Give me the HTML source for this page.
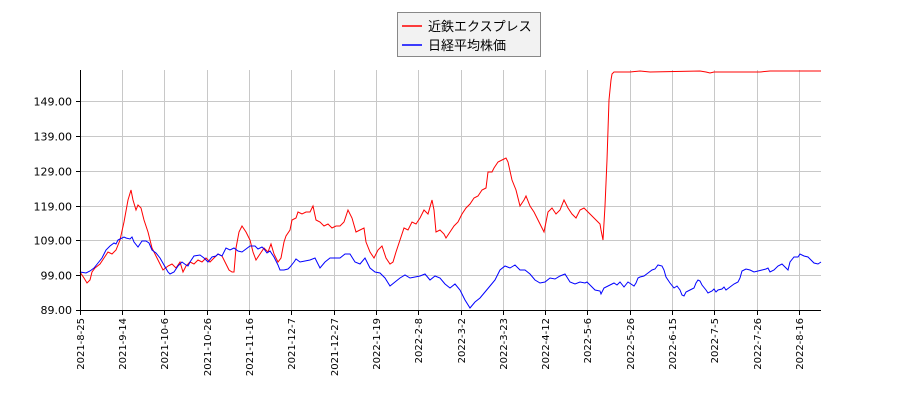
<!DOCTYPE html>
<html><head><meta charset="utf-8"><style>
html,body{margin:0;padding:0;background:#fff;width:900px;height:400px;overflow:hidden}
svg{font-family:"DejaVu Sans","Liberation Sans","Noto Sans CJK JP",sans-serif}
</style></head><body>
<svg width="900" height="400" viewBox="0 0 900 400" xmlns="http://www.w3.org/2000/svg">
<g stroke="#c8c8c8" stroke-width="1">
<line x1="80" y1="101.5" x2="821" y2="101.5"/><line x1="80" y1="136.5" x2="821" y2="136.5"/>
<line x1="80" y1="171.5" x2="821" y2="171.5"/><line x1="80" y1="206.5" x2="821" y2="206.5"/>
<line x1="80" y1="240.5" x2="821" y2="240.5"/><line x1="80" y1="275.5" x2="821" y2="275.5"/>
<line x1="122.5" y1="70" x2="122.5" y2="310"/><line x1="164.5" y1="70" x2="164.5" y2="310"/>
<line x1="207.5" y1="70" x2="207.5" y2="310"/><line x1="249.5" y1="70" x2="249.5" y2="310"/>
<line x1="291.5" y1="70" x2="291.5" y2="310"/><line x1="334.5" y1="70" x2="334.5" y2="310"/>
<line x1="376.5" y1="70" x2="376.5" y2="310"/><line x1="418.5" y1="70" x2="418.5" y2="310"/>
<line x1="461.5" y1="70" x2="461.5" y2="310"/><line x1="503.5" y1="70" x2="503.5" y2="310"/>
<line x1="545.5" y1="70" x2="545.5" y2="310"/><line x1="587.5" y1="70" x2="587.5" y2="310"/>
<line x1="630.5" y1="70" x2="630.5" y2="310"/><line x1="672.5" y1="70" x2="672.5" y2="310"/>
<line x1="714.5" y1="70" x2="714.5" y2="310"/><line x1="757.5" y1="70" x2="757.5" y2="310"/>
<line x1="799.5" y1="70" x2="799.5" y2="310"/>
</g>
<polyline fill="none" stroke="#ff0000" stroke-width="1" points="80,272 84,278 87,283 90,280 92,272 95,268 100,264 104,258 108,252 112,254 116,250 120,240 124,222 128,200 131,190 133,200 136,210 138,205 141,208 144,220 148,232 152,248 156,256 160,264 163,270 168,266 172,264 176,268 180,262 183,272 186,266 190,262 194,264 198,260 202,262 206,258 210,262 214,258 218,254 222,256 225,262 229,270 232,272 234,272 236,248 239,232 242,226 246,232 250,240 253,252 256,260 260,254 264,248 268,252 271,244 274,254 278,262 281,258 284,242 286,236 290,230 292,220 296,218 298,212 302,214 306,212 310,212 313,206 316,220 320,222 324,226 328,224 332,228 336,226 340,226 344,222 348,210 352,218 356,232 360,230 364,228 366,242 370,252 374,258 378,250 382,246 386,258 390,264 393,262 396,252 400,240 404,228 408,230 412,222 416,224 420,218 424,210 428,214 432,200 434,210 436,232 440,230 444,234 446,238 450,232 454,226 458,222 462,214 466,208 470,204 474,198 478,196 482,190 486,188 488,172 492,172 494,168 498,162 502,160 506,158 508,162 512,180 516,190 520,206 524,200 526,196 530,206 534,212 538,220 540,224 544,232 548,212 552,208 556,214 560,210 564,200 568,208 572,214 576,218 580,210 584,208 588,212 592,216 596,220 600,224 601,230 603,240 605,206 607,160 609,100 611,80 612,74 614,72 630,72 640,71 650,72 700,71 706,72 710,73 714,72 720,72 740,72 750,72 760,72 770,71 821,71"/>
<polyline fill="none" stroke="#0000ff" stroke-width="1" points="80,272 86,273 90,271 94,268 98,263 102,258 106,250 110,246 114,243 116,244 118,240 120,239 124,237 126,238 130,239 132,237 134,242 138,247 142,241 146,241 149,243 152,250 156,253 160,258 164,265 168,272 170,274 174,272 178,266 182,262 186,265 188,266 190,262 194,256 200,255 204,258 208,262 212,257 216,256 218,254 222,256 226,248 230,250 234,248 238,251 242,252 246,249 250,246 255,246 258,249 262,247 264,249 267,253 270,251 274,257 278,265 280,270 284,270 288,269 290,267 294,262 296,259 300,262 310,260 315,258 320,268 325,262 330,258 340,258 345,254 350,254 355,262 360,264 365,258 370,268 375,272 380,273 385,278 390,286 395,282 400,278 405,275 410,278 415,277 420,276 425,274 430,280 435,276 440,278 445,284 450,288 455,284 460,290 465,300 470,308 475,302 480,298 485,292 490,286 495,280 500,270 505,266 510,268 515,265 520,270 525,270 530,274 535,280 540,283 545,282 550,278 555,279 560,276 565,274 570,282 575,284 580,282 585,283 587,282 590,285 595,290 600,291 601,294 604,288 610,285 614,283 617,285 620,282 624,287 628,282 631,284 634,286 636,283 638,278 640,277 644,276 648,273 652,270 655,269 658,265 662,266 664,270 666,277 670,283 674,288 677,286 680,290 682,295 684,296 686,292 690,290 694,288 696,283 698,280 700,281 702,285 706,290 708,293 712,291 714,289 716,292 718,290 722,289 724,287 726,290 730,287 734,284 738,282 740,278 742,271 746,269 750,270 754,272 758,271 762,270 766,269 768,268 770,272 774,270 778,266 782,264 786,268 788,270 790,262 794,257 798,257 800,254 804,256 808,257 810,259 814,263 818,264 821,262"/>
<g stroke="#000" stroke-width="1">
<line x1="80.5" y1="70" x2="80.5" y2="310"/><line x1="80" y1="310.5" x2="821" y2="310.5"/>
<line x1="76" y1="101.5" x2="80" y2="101.5"/><line x1="76" y1="136.5" x2="80" y2="136.5"/>
<line x1="76" y1="171.5" x2="80" y2="171.5"/><line x1="76" y1="206.5" x2="80" y2="206.5"/>
<line x1="76" y1="240.5" x2="80" y2="240.5"/><line x1="76" y1="275.5" x2="80" y2="275.5"/>
<line x1="76" y1="310.5" x2="80" y2="310.5"/>
<line x1="80.5" y1="310" x2="80.5" y2="315"/><line x1="122.5" y1="310" x2="122.5" y2="315"/>
<line x1="164.5" y1="310" x2="164.5" y2="315"/><line x1="207.5" y1="310" x2="207.5" y2="315"/>
<line x1="249.5" y1="310" x2="249.5" y2="315"/><line x1="291.5" y1="310" x2="291.5" y2="315"/>
<line x1="334.5" y1="310" x2="334.5" y2="315"/><line x1="376.5" y1="310" x2="376.5" y2="315"/>
<line x1="418.5" y1="310" x2="418.5" y2="315"/><line x1="461.5" y1="310" x2="461.5" y2="315"/>
<line x1="503.5" y1="310" x2="503.5" y2="315"/><line x1="545.5" y1="310" x2="545.5" y2="315"/>
<line x1="587.5" y1="310" x2="587.5" y2="315"/><line x1="630.5" y1="310" x2="630.5" y2="315"/>
<line x1="672.5" y1="310" x2="672.5" y2="315"/><line x1="714.5" y1="310" x2="714.5" y2="315"/>
<line x1="757.5" y1="310" x2="757.5" y2="315"/><line x1="799.5" y1="310" x2="799.5" y2="315"/>
</g>
<g font-size="11" fill="#000" text-anchor="end">
<text x="72" y="105.5">149.00</text><text x="72" y="140.5">139.00</text><text x="72" y="175.5">129.00</text>
<text x="72" y="210.5">119.00</text><text x="72" y="244.5">109.00</text><text x="72" y="279.5">99.00</text>
<text x="72" y="314">89.00</text>
</g>
<g font-size="10" fill="#000" text-anchor="end">
<text transform="translate(84,318) rotate(-90)">2021-8-25</text>
<text transform="translate(126,318) rotate(-90)">2021-9-14</text>
<text transform="translate(168,318) rotate(-90)">2021-10-6</text>
<text transform="translate(211,318) rotate(-90)">2021-10-26</text>
<text transform="translate(253,318) rotate(-90)">2021-11-16</text>
<text transform="translate(295,318) rotate(-90)">2021-12-7</text>
<text transform="translate(338,318) rotate(-90)">2021-12-27</text>
<text transform="translate(380,318) rotate(-90)">2022-1-19</text>
<text transform="translate(422,318) rotate(-90)">2022-2-8</text>
<text transform="translate(465,318) rotate(-90)">2022-3-2</text>
<text transform="translate(507,318) rotate(-90)">2022-3-23</text>
<text transform="translate(549,318) rotate(-90)">2022-4-12</text>
<text transform="translate(591,318) rotate(-90)">2022-5-6</text>
<text transform="translate(634,318) rotate(-90)">2022-5-26</text>
<text transform="translate(676,318) rotate(-90)">2022-6-15</text>
<text transform="translate(718,318) rotate(-90)">2022-7-5</text>
<text transform="translate(761,318) rotate(-90)">2022-7-26</text>
<text transform="translate(803,318) rotate(-90)">2022-8-16</text>
</g>
<rect x="397.5" y="12.5" width="143" height="44" fill="#f2f2f2" stroke="#888"/>
<line x1="402" y1="26" x2="422" y2="26" stroke="#ff0000" stroke-width="1.5"/>
<line x1="402" y1="45" x2="422" y2="45" stroke="#0000ff" stroke-width="1.5"/>
<g font-size="13" fill="#000" font-family="'Liberation Sans','Noto Sans CJK JP',sans-serif">
<text x="428" y="31">近鉄エクスプレス</text>
<text x="428" y="50">日経平均株価</text>
</g>
</svg>
</body></html>
